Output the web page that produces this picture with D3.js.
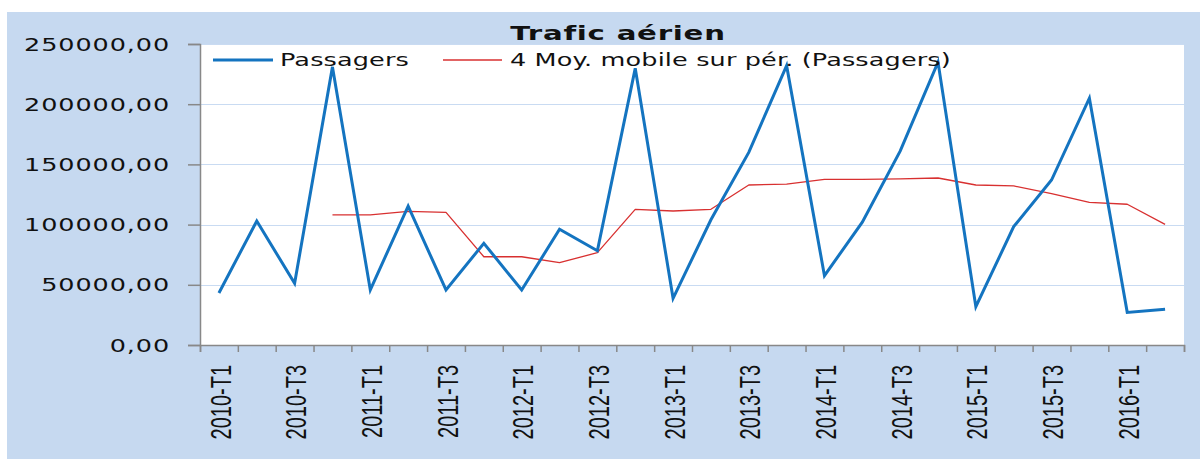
<!DOCTYPE html>
<html><head><meta charset="utf-8">
<script src="https://cdn.jsdelivr.net/npm/d3@7/dist/d3.min.js"></script>
<style>
html,body{margin:0;padding:0;background:#fff;}
svg{display:block;}
</style></head>
<body>
<svg id="chart" width="1200" height="459"></svg>
<script>
const categories = ["2010-T1","2010-T2","2010-T3","2010-T4","2011-T1","2011-T2","2011-T3","2011-T4",
  "2012-T1","2012-T2","2012-T3","2012-T4","2013-T1","2013-T2","2013-T3","2013-T4",
  "2014-T1","2014-T2","2014-T3","2014-T4","2015-T1","2015-T2","2015-T3","2015-T4",
  "2016-T1","2016-T2"];
const passagers = [43200,103000,51200,231000,45700,115400,45700,84500,
  45700,96100,78300,229800,38800,104000,160000,232000,
  57600,102000,161000,235000,31800,98300,137000,205000,
  27100,29600];
// 4-period moving average (null where undefined)
const moyenneMobile = [null,null,null,108000,108000,111000,110200,73300,
  73300,68400,76700,112700,111300,112700,132900,133700,
  137500,137500,138000,138700,132900,132100,125800,118500,
  116900,100200];
const yTicks = [0,50000,100000,150000,200000,250000];
const xLabels = ["2010-T1","2010-T3","2011-T1","2011-T3","2012-T1","2012-T3","2013-T1",
  "2013-T3","2014-T1","2014-T3","2015-T1","2015-T3","2016-T1"];
const seriesNames = ["Passagers","4 Moy. mobile sur pér. (Passagers)"];
const title = "Trafic aérien";

const svg = d3.select("#chart");
const L = 200, R = 1184, T = 44, B = 345;
const SX = 1.5; // horizontal text stretch
const fontMain = "'DejaVu Sans', sans-serif";

// backgrounds
svg.append("rect").attr("x",7).attr("y",12).attr("width",1193).attr("height",447).attr("fill","#c6d9f0");
svg.append("rect").attr("x",L).attr("y",T).attr("width",R-L).attr("height",B-T).attr("fill","#ffffff");

const x = d3.scaleBand().domain(categories).range([L,R]);
const xb = d3.scaleLinear().domain([0,categories.length]).range([L,R]);
const y = d3.scaleLinear().domain([0,250000]).range([B,T]);
const cx = d => x(d) + x.bandwidth()/2;

// gridlines
svg.append("g").selectAll("line").data(yTicks.filter(v=>v>0)).join("line")
  .attr("x1",L).attr("x2",R).attr("y1",d=>Math.round(y(d))+0.5).attr("y2",d=>Math.round(y(d))+0.5)
  .attr("stroke","#c9dbf2").attr("stroke-width",1.2);

// y axis
const yAxis = svg.append("g").attr("transform",`translate(${L},0)`)
  .call(d3.axisLeft(y).tickValues(yTicks).tickSize(12)
    .tickFormat(v => d3.format(".2f")(v).replace(".", ",")));
yAxis.select(".domain").attr("stroke","#888").attr("stroke-width",1.5);
yAxis.selectAll(".tick line").attr("stroke","#888").attr("stroke-width",1.5);
yAxis.selectAll(".tick text")
  .attr("x",0).attr("dy","0.36em")
  .attr("transform",`translate(-30,0) scale(${SX},1)`)
  .attr("font-family",fontMain).attr("font-size",17).attr("fill","#111")
  .attr("letter-spacing",0.6).attr("text-anchor","end");

// x axis boundary ticks
const xAxis = svg.append("g").attr("transform",`translate(0,${B})`)
  .call(d3.axisBottom(xb).tickValues(d3.range(categories.length+1)).tickSize(7).tickFormat(""));
xAxis.select(".domain").attr("stroke","#888").attr("stroke-width",1.5);
xAxis.selectAll(".tick line").attr("stroke","#888").attr("stroke-width",1.5);

// x labels
const xLab = svg.append("g").attr("transform",`translate(0,${B})`)
  .call(d3.axisBottom(x).tickValues(xLabels).tickSize(0));
xLab.select(".domain").remove();
xLab.selectAll(".tick text")
  .attr("x",0).attr("y",0).attr("dy",0)
  .attr("transform",`translate(1,20) scale(${SX},1) rotate(-90)`)
  .attr("text-anchor","end").attr("dominant-baseline","central")
  .attr("font-family","'Liberation Sans', Arial, sans-serif").attr("font-size",20).attr("fill","#111");

// lines
const line = d3.line().defined(d => d.v != null).x(d => cx(d.c)).y(d => y(d.v));
svg.append("path").datum(categories.map((c,i)=>({c, v: moyenneMobile[i]})))
  .attr("d",line).attr("fill","none").attr("stroke","#d83030").attr("stroke-width",1.3)
  .attr("stroke-linejoin","round");
svg.append("path").datum(categories.map((c,i)=>({c, v: passagers[i]})))
  .attr("d",line).attr("fill","none").attr("stroke","#1474c0").attr("stroke-width",3)
  .attr("stroke-linejoin","miter");

// legend
const leg = svg.append("g");
leg.append("line").attr("x1",213).attr("x2",273).attr("y1",60).attr("y2",60)
  .attr("stroke","#1474c0").attr("stroke-width",3);
leg.append("text").attr("transform",`translate(280,60) scale(${SX},1)`).attr("dy","0.36em")
  .attr("font-family",fontMain).attr("font-size",17).attr("fill","#111").attr("letter-spacing",0.1)
  .text(seriesNames[0]);
leg.append("line").attr("x1",443).attr("x2",502).attr("y1",60).attr("y2",60)
  .attr("stroke","#d83030").attr("stroke-width",1.3);
leg.append("text").attr("transform",`translate(510,60) scale(${SX},1)`).attr("dy","0.36em")
  .attr("font-family",fontMain).attr("font-size",17).attr("fill","#111").attr("letter-spacing",0.1)
  .text(seriesNames[1]);

// title
svg.append("text").attr("transform",`translate(618,40) scale(${SX},1)`)
  .attr("text-anchor","middle").attr("font-family",fontMain).attr("font-weight","bold")
  .attr("font-size",19.5).attr("fill","#111").attr("letter-spacing",0.5).text(title);
</script>
</body></html>
